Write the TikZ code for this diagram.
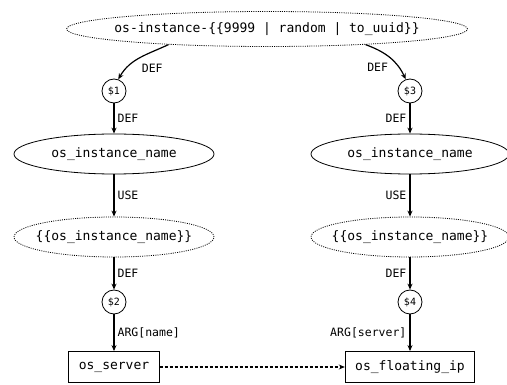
\documentclass[tikz,border=0pt]{standalone}
\usepackage{fontspec}
\setmonofont{DejaVu Sans Mono}
\usetikzlibrary{arrows.meta, shapes.geometric}

\tikzset{
    var/.style={ellipse, draw, line width=0.8pt, minimum width=200pt, minimum height=40pt,
        inner sep=0pt, font=\ttfamily\fontsize{13}{15}\selectfont},
    tmpl/.style={var, line width=0.8pt, dash pattern=on 1pt off 1.2pt, inner xsep=-12pt},
    slot/.style={circle, draw, line width=0.8pt, minimum size=24pt, inner sep=0pt,
        font=\ttfamily\fontsize{10}{12}\selectfont},
    res/.style={rectangle, draw, line width=0.8pt, minimum height=31pt, inner xsep=10pt,
        font=\ttfamily\fontsize{13}{15}\selectfont},
    flow/.style={->, line width=1.2pt},
    lbl/.style={font=\ttfamily\fontsize{11.5}{13}\selectfont, inner sep=3pt},
}

\begin{document}
\begin{tikzpicture}[x=1pt, y=-1pt, >={Stealth[length=6pt, width=5pt]}]
    \useasboundingbox (0,0) rectangle (507,385);

    % the generated name
    \node[tmpl, minimum width=401pt, minimum height=35pt] (gen) at (267,29)
        {os-instance-\{\{9999 | random | to\_uuid\}\}};

    % left chain
    \node[slot] (s1) at (114,91) {\$1};
    \node[var] (nameL) at (114,154) {os\_instance\_name};
    \node[tmpl] (useL) at (114,237) {\{\{os\_instance\_name\}\}};
    \node[slot] (s2) at (114,302) {\$2};
    \node[res] (srv) at (114,367) {os\_server};

    % right chain
    \node[slot] (s3) at (410,91) {\$3};
    \node[var, minimum width=198pt] (nameR) at (410,154) {os\_instance\_name};
    \node[tmpl, minimum width=198pt] (useR) at (410,237) {\{\{os\_instance\_name\}\}};
    \node[slot] (s4) at (410,302) {\$4};
    \node[res] (fip) at (410,367) {os\_floating\_ip};

    \draw[flow] (gen.189) to[out=-155, in=60] node[lbl, pos=0.45, anchor=north west, shift={(-4pt,-4pt)}] {DEF} (s1.70);
    \draw[flow] (s1) -- node[lbl, right] {DEF} (nameL);
    \draw[flow] (nameL) -- node[lbl, right] {USE} (useL);
    \draw[flow] (useL) -- node[lbl, right] {DEF} (s2);
    \draw[flow] (s2) -- node[lbl, right] {ARG[name]} (srv);

    \draw[flow] (gen.351) to[out=-20, in=115] node[lbl, pos=0.45, anchor=north east, shift={(4pt,-4pt)}] {DEF} (s3.110);
    \draw[flow] (s3) -- node[lbl, left] {DEF} (nameR);
    \draw[flow] (nameR) -- node[lbl, left] {USE} (useR);
    \draw[flow] (useR) -- node[lbl, left] {DEF} (s4);
    \draw[flow] (s4) -- node[lbl, left] {ARG[server]} (fip);

    \draw[flow, line width=1.1pt, dash pattern=on 3pt off 2pt] (srv) -- (fip);
\end{tikzpicture}
\end{document}
